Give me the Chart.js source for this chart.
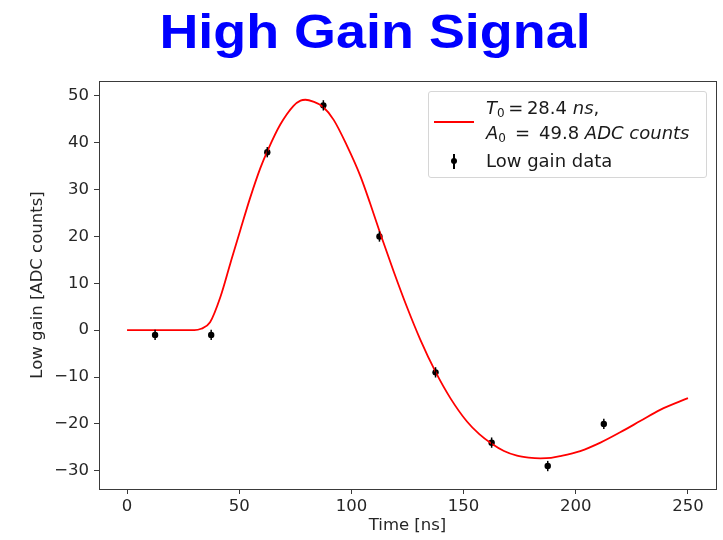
<!DOCTYPE html>
<html>
<head>
<meta charset="utf-8">
<script src="https://cdn.jsdelivr.net/npm/chart.js@4/dist/chart.umd.min.js"></script>
<style>
  body { margin: 0; background: #fff; }
  #wrap { position: relative; width: 723px; height: 540px; overflow: hidden; }
  #title {
    position: absolute; left: 375px; top: 3px; margin: 0;
    transform: translateX(-50%) scaleX(1.1);
    font: bold 49px "Liberation Sans", Arial, sans-serif;
    color: #0000ff; white-space: nowrap; line-height: 56px;
  }
  #legend {
    position: absolute; left: 428px; top: 91px; width: 277px; height: 85px;
    border: 1px solid #d6d6d6; border-radius: 3px; background: rgba(255,255,255,0.8);
    font: 18px "DejaVu Sans", sans-serif; color: #1a1a1a;
  }
  #legend .row { position: absolute; left: 57px; line-height: 18px; white-space: nowrap; }
  #legend sub { font-size: 12px; vertical-align: -3px; line-height: 0; }
  #legend .fitline { position: absolute; left: 5px; top: 29px; width: 40px; height: 2px; background: #ff0000; }
  #legend .ebar { position: absolute; left: 24px; top: 62px; width: 1.5px; height: 15px; background: #000; }
  #legend .edot { position: absolute; left: 22px; top: 66px; width: 6px; height: 6px; border-radius: 50%; background: #000; }
</style>
</head>
<body>
<div id="wrap">
  <canvas id="chart" width="723" height="540"></canvas>
  <h1 id="title">High Gain Signal</h1>
  <div id="legend">
    <div class="fitline"></div>
    <div class="row" style="top:7px"><i>T</i><sub>0</sub>&#8201;=&#8201;28.4 <i>ns</i>,</div>
    <div class="row" style="top:32px"><i>A</i><sub>0</sub>&#8194;=&#8194;49.8 <i>ADC counts</i></div>
    <div class="ebar"></div><div class="edot"></div>
    <div class="row" style="top:60px">Low gain data</div>
  </div>
</div>
<script>
// measured samples
const timeNs = [12.5, 37.5, 62.5, 87.5, 112.5, 137.5, 162.5, 187.5, 212.5];
const lowGain = [-1, -1, 38, 48, 20, -9, -24, -29, -20];
const lowGainErr = [1.1, 1.1, 1.1, 1.1, 1.1, 1.1, 1.1, 1.1, 1.1];

// fitted pulse
const fitTime = [0, 10, 20, 30, 33, 37, 41.6, 46, 50.5, 54.9, 59.4, 62.7, 68.3, 74.2, 77.3, 79.5, 83, 87.3,
  92.1, 98, 104, 108.4, 112.9, 118.8, 124.8, 130.7, 137.4, 144.1, 151.5, 157, 162.4, 168, 173.8, 179,
  184.2, 189, 193, 202, 211, 219.8, 228.7, 237.6, 250];
const fitGain = [0, 0, 0, 0, 0.3, 1.7, 7.1, 14.2, 21.4, 28.3, 34.6, 38.4, 43.9, 47.9, 49, 49.2, 48.8, 47.7,
  44.9, 39.4, 32.9, 27.0, 20.6, 12.6, 4.9, -2.0, -8.8, -14.5, -19.5, -22.2, -24.2, -25.8, -26.8, -27.2,
  -27.35, -27.25, -26.9, -25.8, -24, -21.8, -19.4, -17, -14.5];

const xTicks = [0, 50, 100, 150, 200, 250];
const yTicks = [-30, -20, -10, 0, 10, 20, 30, 40, 50];

const axisColor = '#3a3a3a';
const textColor = '#262626';
const tickFont = { family: 'DejaVu Sans', size: 16.5 };

const frame = {
  id: 'frame',
  afterDatasetsDraw(chart) {
    const { ctx, chartArea: a } = chart;
    ctx.save();
    ctx.strokeStyle = axisColor;
    ctx.lineWidth = 1;
    ctx.strokeRect(a.left + 0.5, a.top + 0.5, a.right - a.left, a.bottom - a.top);
    ctx.restore();
  }
};

const errorBars = {
  id: 'errorBars',
  afterDatasetsDraw(chart) {
    const { ctx } = chart;
    const x = chart.scales.x;
    const y = chart.scales.y;
    ctx.save();
    ctx.strokeStyle = '#000';
    ctx.lineWidth = 1.5;
    timeNs.forEach((t, i) => {
      const px = x.getPixelForValue(t);
      ctx.beginPath();
      ctx.moveTo(px, y.getPixelForValue(lowGain[i] - lowGainErr[i]));
      ctx.lineTo(px, y.getPixelForValue(lowGain[i] + lowGainErr[i]));
      ctx.stroke();
    });
    ctx.restore();
  }
};

new Chart(document.getElementById('chart'), {
  type: 'scatter',
  data: {
    datasets: [
      {
        label: 'fit',
        data: fitTime.map((t, i) => ({ x: t, y: fitGain[i] })),
        showLine: true,
        borderColor: '#ff0000',
        borderWidth: 1.8,
        pointRadius: 0,
        cubicInterpolationMode: 'monotone'
      },
      {
        label: 'Low gain data',
        data: timeNs.map((t, i) => ({ x: t, y: lowGain[i] })),
        backgroundColor: '#000',
        borderColor: '#000',
        pointRadius: 3.2,
        borderWidth: 0
      }
    ]
  },
  options: {
    responsive: false,
    animation: false,
    layout: { padding: { top: 81, right: 7, left: 0, bottom: 0 } },
    plugins: { legend: { display: false }, tooltip: { enabled: false } },
    scales: {
      x: {
        type: 'linear',
        min: -12.5,
        max: 262.5,
        afterFit: scale => { scale.height = 51; },
        afterBuildTicks: scale => { scale.ticks = xTicks.map(v => ({ value: v })); },
        border: { display: false },
        grid: { drawOnChartArea: false, tickLength: 5, color: axisColor },
        ticks: { color: textColor, font: tickFont, padding: 3, maxRotation: 0 },
        title: { display: true, text: 'Time [ns]', color: textColor, font: tickFont, padding: { top: 0, bottom: 4 } }
      },
      y: {
        type: 'linear',
        min: -33.9,
        max: 53.2,
        afterFit: scale => { scale.width = 99; },
        afterBuildTicks: scale => { scale.ticks = yTicks.map(v => ({ value: v })); },
        border: { display: false },
        grid: { drawOnChartArea: false, tickLength: 5, color: axisColor },
        ticks: {
          color: textColor, font: tickFont, padding: 5,
          callback: v => String(v).replace('-', '\u2212')
        },
        title: { display: true, text: 'Low gain [ADC counts]', color: textColor, font: tickFont, padding: { top: 28, bottom: 0 } }
      }
    }
  },
  plugins: [errorBars, frame]
});
</script>
</body>
</html>
